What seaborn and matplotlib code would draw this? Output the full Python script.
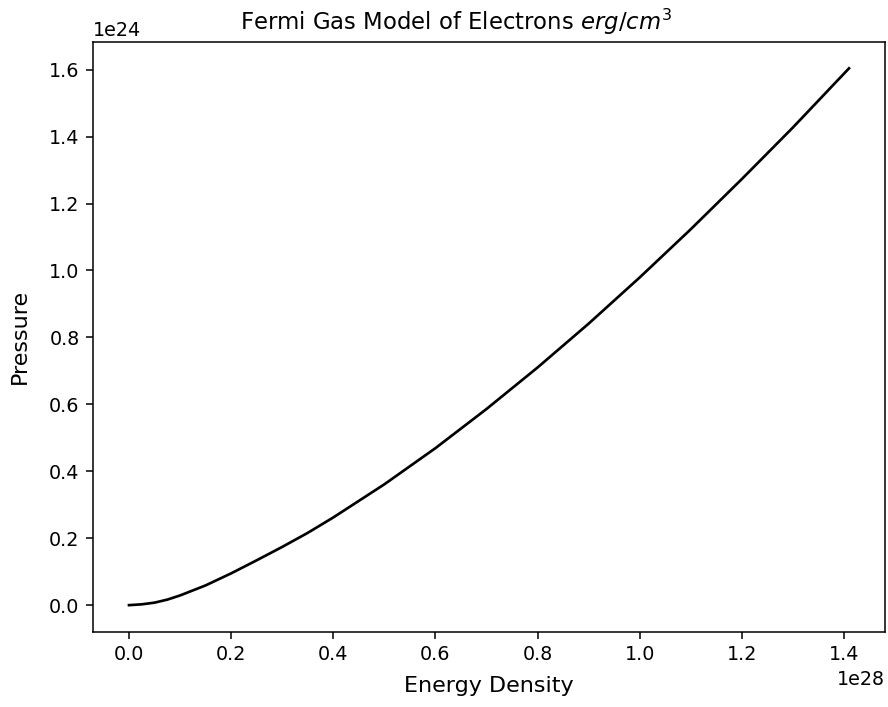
import matplotlib
matplotlib.use("Agg")
import matplotlib.pyplot as plt
import seaborn as sns
import numpy as np
import pandas as pd

# Energy density (units of 1e28) and pressure (units of 1e24)
energy_density = [0.0, 0.025, 0.05, 0.075, 0.1, 0.15, 0.2, 0.25, 0.3, 0.35, 0.4, 0.5,
                  0.6, 0.7, 0.8, 0.9, 1.0, 1.1, 1.2, 1.3, 1.41]
pressure = [0.0, 0.0025, 0.0075, 0.0165, 0.029, 0.059, 0.095, 0.134, 0.174, 0.216,
            0.262, 0.361, 0.469, 0.586, 0.710, 0.841, 0.979, 1.123, 1.273, 1.427, 1.604]

df = pd.DataFrame({
    "Energy Density": np.array(energy_density) * 1e28,
    "Pressure": np.array(pressure) * 1e24,
})

dpi = 138
fig = plt.figure(figsize=(888 / dpi, 707 / dpi), dpi=dpi)
ax = fig.add_axes([93 / 888, 1 - 632 / 707, (885 - 93) / 888, (632 - 41.5) / 707])

sns.lineplot(data=df, x="Energy Density", y="Pressure", color="black",
             linewidth=1.4, estimator=None, sort=True, ax=ax)

ax.set_title("Fermi Gas Model of Electrons $erg/cm^3$", x=0.459, fontsize=11.9)
ax.set_xlabel("Energy Density", fontsize=11.6, labelpad=6)
ax.set_ylabel("Pressure", fontsize=11.6, labelpad=10)

fig.savefig("out.png", dpi=dpi)
